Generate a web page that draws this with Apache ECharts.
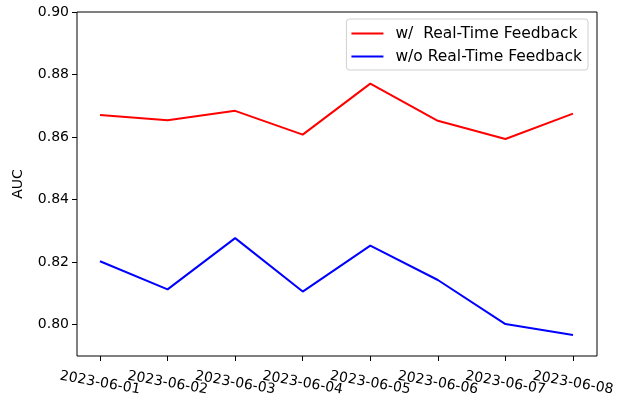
<!DOCTYPE html>
<html>
<head>
<meta charset="utf-8">
<script src="https://cdn.jsdelivr.net/npm/echarts@6/dist/echarts.min.js"></script>
<style>
    html, body { margin: 0; padding: 0; background: #fff; }
    #chart { width: 618px; height: 400px; }
</style>
</head>
<body>
<div id="chart"></div>
<script>
const dates = ['2023-06-01', '2023-06-02', '2023-06-03', '2023-06-04',
               '2023-06-05', '2023-06-06', '2023-06-07', '2023-06-08'];
const withFeedback = [0.8671, 0.8654, 0.8684, 0.8608, 0.8771, 0.8652, 0.8594, 0.8675];
const withoutFeedback = [0.8203, 0.8113, 0.8277, 0.8106, 0.8253, 0.8143, 0.8002, 0.7967];
const yTicks = [0.80, 0.82, 0.84, 0.86, 0.88, 0.90];
const seriesNames = ['w/  Real-Time Feedback', 'w/o Real-Time Feedback'];

const font = 'DejaVu Sans';
const yMin = 0.79, yMax = 0.90;

const chart = echarts.init(document.getElementById('chart'));
chart.setOption({
    backgroundColor: '#fff',
    animation: false,
    textStyle: { fontFamily: font },
    grid: [
        // data area: first/last dates inset like matplotlib margins
        { left: 100, right: 45, top: 12, bottom: 44 },
        // frame
        {
            left: 77, right: 21, top: 12, bottom: 44,
            show: true, borderColor: '#000', borderWidth: 1,
            backgroundColor: 'transparent'
        }
    ],
    legend: {
        orient: 'vertical',
        right: 30,
        top: 19,
        icon: 'rect',
        itemWidth: 32,
        itemHeight: 2,
        itemGap: 6,
        padding: [6, 6, 5, 5],
        borderColor: '#d0d0d0',
        borderWidth: 1,
        borderRadius: 3,
        backgroundColor: '#fff',
        textStyle: {
            fontFamily: font,
            fontSize: 15.5,
            color: '#000',
            lineHeight: 17,
            padding: [0, 0, 0, 7]
        },
        data: seriesNames
    },
    xAxis: [
        {
            type: 'category',
            gridIndex: 0,
            data: dates,
            boundaryGap: false,
            axisLine: { show: false, onZero: false },
            axisTick: {
                show: true,
                length: 5,
                interval: 0,
                lineStyle: { color: '#000', width: 1 }
            },
            axisLabel: {
                interval: 0,
                rotate: -10,
                align: 'center',
                margin: 27,
                hideOverlap: false,
                fontFamily: font,
                fontSize: 14,
                color: '#000'
            }
        },
        {
            type: 'value',
            gridIndex: 1,
            show: false
        }
    ],
    yAxis: [
        {
            type: 'value',
            gridIndex: 0,
            min: yMin,
            max: yMax,
            show: false
        },
        {
            type: 'value',
            gridIndex: 1,
            min: yMin,
            max: yMax,
            name: 'AUC',
            nameLocation: 'middle',
            nameGap: 52,
            nameRotate: 90,
            nameTextStyle: { fontFamily: font, fontSize: 14, color: '#000' },
            splitLine: { show: false },
            axisLine: { show: false, onZero: false },
            axisTick: {
                show: true,
                length: 5,
                customValues: yTicks,
                lineStyle: { color: '#000', width: 1 }
            },
            axisLabel: {
                customValues: yTicks,
                margin: 8,
                fontFamily: font,
                fontSize: 14,
                color: '#000',
                formatter: v => v.toFixed(2)
            }
        }
    ],
    series: [
        {
            name: seriesNames[0],
            type: 'line',
            xAxisIndex: 0,
            yAxisIndex: 0,
            symbol: 'none',
            lineStyle: { color: '#ff0000', width: 2 },
            itemStyle: { color: '#ff0000' },
            data: withFeedback
        },
        {
            name: seriesNames[1],
            type: 'line',
            xAxisIndex: 0,
            yAxisIndex: 0,
            symbol: 'none',
            lineStyle: { color: '#0000ff', width: 2 },
            itemStyle: { color: '#0000ff' },
            data: withoutFeedback
        }
    ]
});
</script>
</body>
</html>
